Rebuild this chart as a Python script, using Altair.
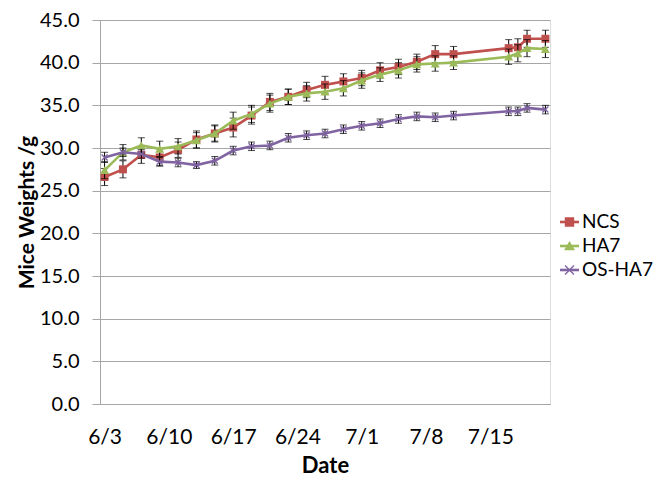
import altair as alt
import pandas as pd

# ---- data ----
dates = ["6/3", "6/5", "6/7", "6/9", "6/11", "6/13", "6/15", "6/17", "6/19", "6/21",
         "6/23", "6/25", "6/27", "6/29", "7/1", "7/3", "7/5", "7/7", "7/9", "7/11",
         "7/17", "7/18", "7/19", "7/21"]
ncs = [26.6, 27.5, 29.2, 28.9, 29.8, 31.0, 31.7, 32.4, 33.8, 35.4,
       36.0, 36.8, 37.4, 37.8, 38.2, 39.1, 39.5, 40.1, 41.0, 41.0,
       41.7, 41.8, 42.8, 42.8]
ncs_err = [1.0, 1.0, 1.0, 1.0, 0.9, 1.0, 1.0, 1.1, 1.0, 1.0,
           0.9, 0.9, 1.0, 0.9, 0.9, 0.9, 0.9, 0.9, 1.0, 0.9,
           1.0, 1.0, 1.0, 1.0]
ha7 = [27.4, 29.5, 30.3, 29.9, 30.2, 30.9, 31.7, 33.2, 34.0, 35.2,
       36.0, 36.4, 36.6, 37.0, 37.9, 38.6, 39.1, 39.8, 39.9, 40.0,
       40.7, 41.1, 41.7, 41.6]
ha7_err = [1.0, 0.9, 0.9, 0.9, 0.9, 0.9, 0.9, 1.0, 1.0, 1.0,
           0.9, 0.9, 0.9, 0.9, 0.9, 0.8, 0.9, 0.9, 0.9, 0.8,
           0.9, 1.0, 1.0, 1.0]
os_ha7 = [28.9, 29.5, 29.3, 28.4, 28.3, 28.0, 28.5, 29.7, 30.2, 30.3,
          31.2, 31.5, 31.7, 32.2, 32.6, 32.9, 33.4, 33.7, 33.6, 33.8,
          34.3, 34.3, 34.7, 34.5]
os_err = [0.6, 0.5, 0.5, 0.5, 0.5, 0.4, 0.5, 0.5, 0.5, 0.5,
          0.5, 0.5, 0.5, 0.5, 0.5, 0.5, 0.5, 0.5, 0.5, 0.5,
          0.5, 0.5, 0.5, 0.5]

series = ["NCS", "HA7", "OS-HA7"]
colors = ["#C0504D", "#9BBB59", "#8064A2"]
tick_dates = ["6/3", "6/10", "6/17", "6/24", "7/1", "7/8", "7/15"]
y_ticks = [0, 5, 10, 15, 20, 25, 30, 35, 40, 45]

# ---- build table ----
def to_day(s):
    return pd.Timestamp("2013/" + s)

start = to_day(dates[0])
rows = []
for name, vals, errs in zip(series, [ncs, ha7, os_ha7], [ncs_err, ha7_err, os_err]):
    for d, v, e in zip(dates, vals, errs):
        rows.append({"series": name, "date": d, "day": (to_day(d) - start).days,
                     "weight": v, "lo": round(v - e, 2), "hi": round(v + e, 2)})
df = pd.DataFrame(rows)
legend_df = pd.DataFrame({"series": series})
tick_days = [(to_day(t) - start).days for t in tick_dates]
last_day = (to_day(dates[-1]) - start).days

FONT = "Lato"
GRAY = "#a6a6a6"
XPATH = "M-1,-1L1,1M-1,1L1,-1"

label_array = "[" + ",".join("'" + t + "'" for t in tick_dates) + "]"
x_enc = alt.X("day:Q",
              scale=alt.Scale(domain=[-0.5, last_day + 0.5], nice=False, zero=False),
              axis=alt.Axis(values=tick_days,
                            labelExpr=label_array + "[round(datum.value / 7)]",
                            title="Date", grid=False, ticks=False, tickSize=0,
                            domainColor=GRAY, labelFont=FONT, labelFontSize=21,
                            labelColor="#000", labelPadding=22,
                            titleFont=FONT, titleFontSize=22, titleFontWeight="bold",
                            titleColor="#000", titlePadding=8))
y_axis = alt.Axis(values=y_ticks, format=".1f", title="Mice Weights /g",
                  grid=True, gridColor=GRAY, domainColor=GRAY, tickColor=GRAY,
                  tickSize=8, labelFont=FONT, labelFontSize=20, labelColor="#000",
                  labelPadding=13, titleFont=FONT, titleFontSize=21,
                  titleFontWeight="bold", titleColor="#000", titlePadding=2)
y_scale = alt.Scale(domain=[0, 45], nice=False, zero=True)

color_scale = alt.Scale(domain=series, range=colors)
marker_shapes = ["square", "triangle-up", XPATH]
marker_sizes = [64, 80, 36]

base = alt.Chart(df)
layers = []
for i, name in enumerate(series):
    sub = base.transform_filter(alt.datum.series == name)
    line = sub.mark_line(strokeWidth=2.6).encode(
        x=x_enc, y=alt.Y("weight:Q", scale=y_scale, axis=y_axis),
        color=alt.Color("series:N", scale=color_scale, legend=None))
    rule = sub.mark_rule(color="#000", strokeWidth=1).encode(
        x=x_enc, y=alt.Y("lo:Q", scale=y_scale, axis=y_axis), y2="hi:Q")
    cap_lo = sub.mark_tick(color="#000", thickness=1, size=7, orient="horizontal").encode(
        x=x_enc, y=alt.Y("lo:Q", scale=y_scale, axis=y_axis))
    cap_hi = sub.mark_tick(color="#000", thickness=1, size=7, orient="horizontal").encode(
        x=x_enc, y=alt.Y("hi:Q", scale=y_scale, axis=y_axis))
    if i == 2:
        pts = sub.mark_point(shape=marker_shapes[i], size=marker_sizes[i], filled=False,
                             strokeWidth=1.4, opacity=1).encode(
            x=x_enc, y=alt.Y("weight:Q", scale=y_scale, axis=y_axis),
            color=alt.Color("series:N", scale=color_scale, legend=None))
    else:
        pts = sub.mark_point(shape=marker_shapes[i], size=marker_sizes[i], filled=True,
                             opacity=1).encode(
            x=x_enc, y=alt.Y("weight:Q", scale=y_scale, axis=y_axis),
            color=alt.Color("series:N", scale=color_scale, legend=None))
    layers += [line, rule, cap_lo, cap_hi, pts]

main = alt.layer(*layers)

# ---- legend (drawn from the series list, placed right of the plot) ----
leg_y = alt.Y("series:N", scale=alt.Scale(domain=series, range=[190, 262], padding=0),
              axis=None)
leg_base = alt.Chart(legend_df)
leg_line = leg_base.mark_rule(strokeWidth=2.6).encode(
    x=alt.value(460), x2=alt.value(479), y=leg_y,
    color=alt.Color("series:N", scale=color_scale, legend=None))
leg_pts = leg_base.mark_point(filled=True, opacity=1, strokeWidth=1.4).encode(
    x=alt.value(469.5), y=leg_y,
    shape=alt.Shape("series:N", scale=alt.Scale(domain=series, range=marker_shapes), legend=None),
    size=alt.Size("series:N", scale=alt.Scale(domain=series, range=marker_sizes), legend=None),
    fill=alt.Fill("series:N", scale=alt.Scale(domain=series, range=colors), legend=None),
    stroke=alt.Stroke("series:N", scale=alt.Scale(domain=series, range=colors), legend=None))
leg_text = leg_base.mark_text(align="left", baseline="middle", font=FONT, fontSize=19,
                              color="#000").encode(
    x=alt.value(482), y=leg_y, text="series:N")
legend = alt.layer(leg_line, leg_pts, leg_text)

chart = alt.layer(main, legend).resolve_scale(y="independent").properties(
    width=450, height=384,
    autosize=alt.AutoSizeParams(type="none"),
    padding={"left": 92, "top": 12, "right": 108, "bottom": 73},
).configure_view(stroke=None).configure(background="white")

chart.save("out.html", embed_options={"renderer": "svg", "actions": False})
